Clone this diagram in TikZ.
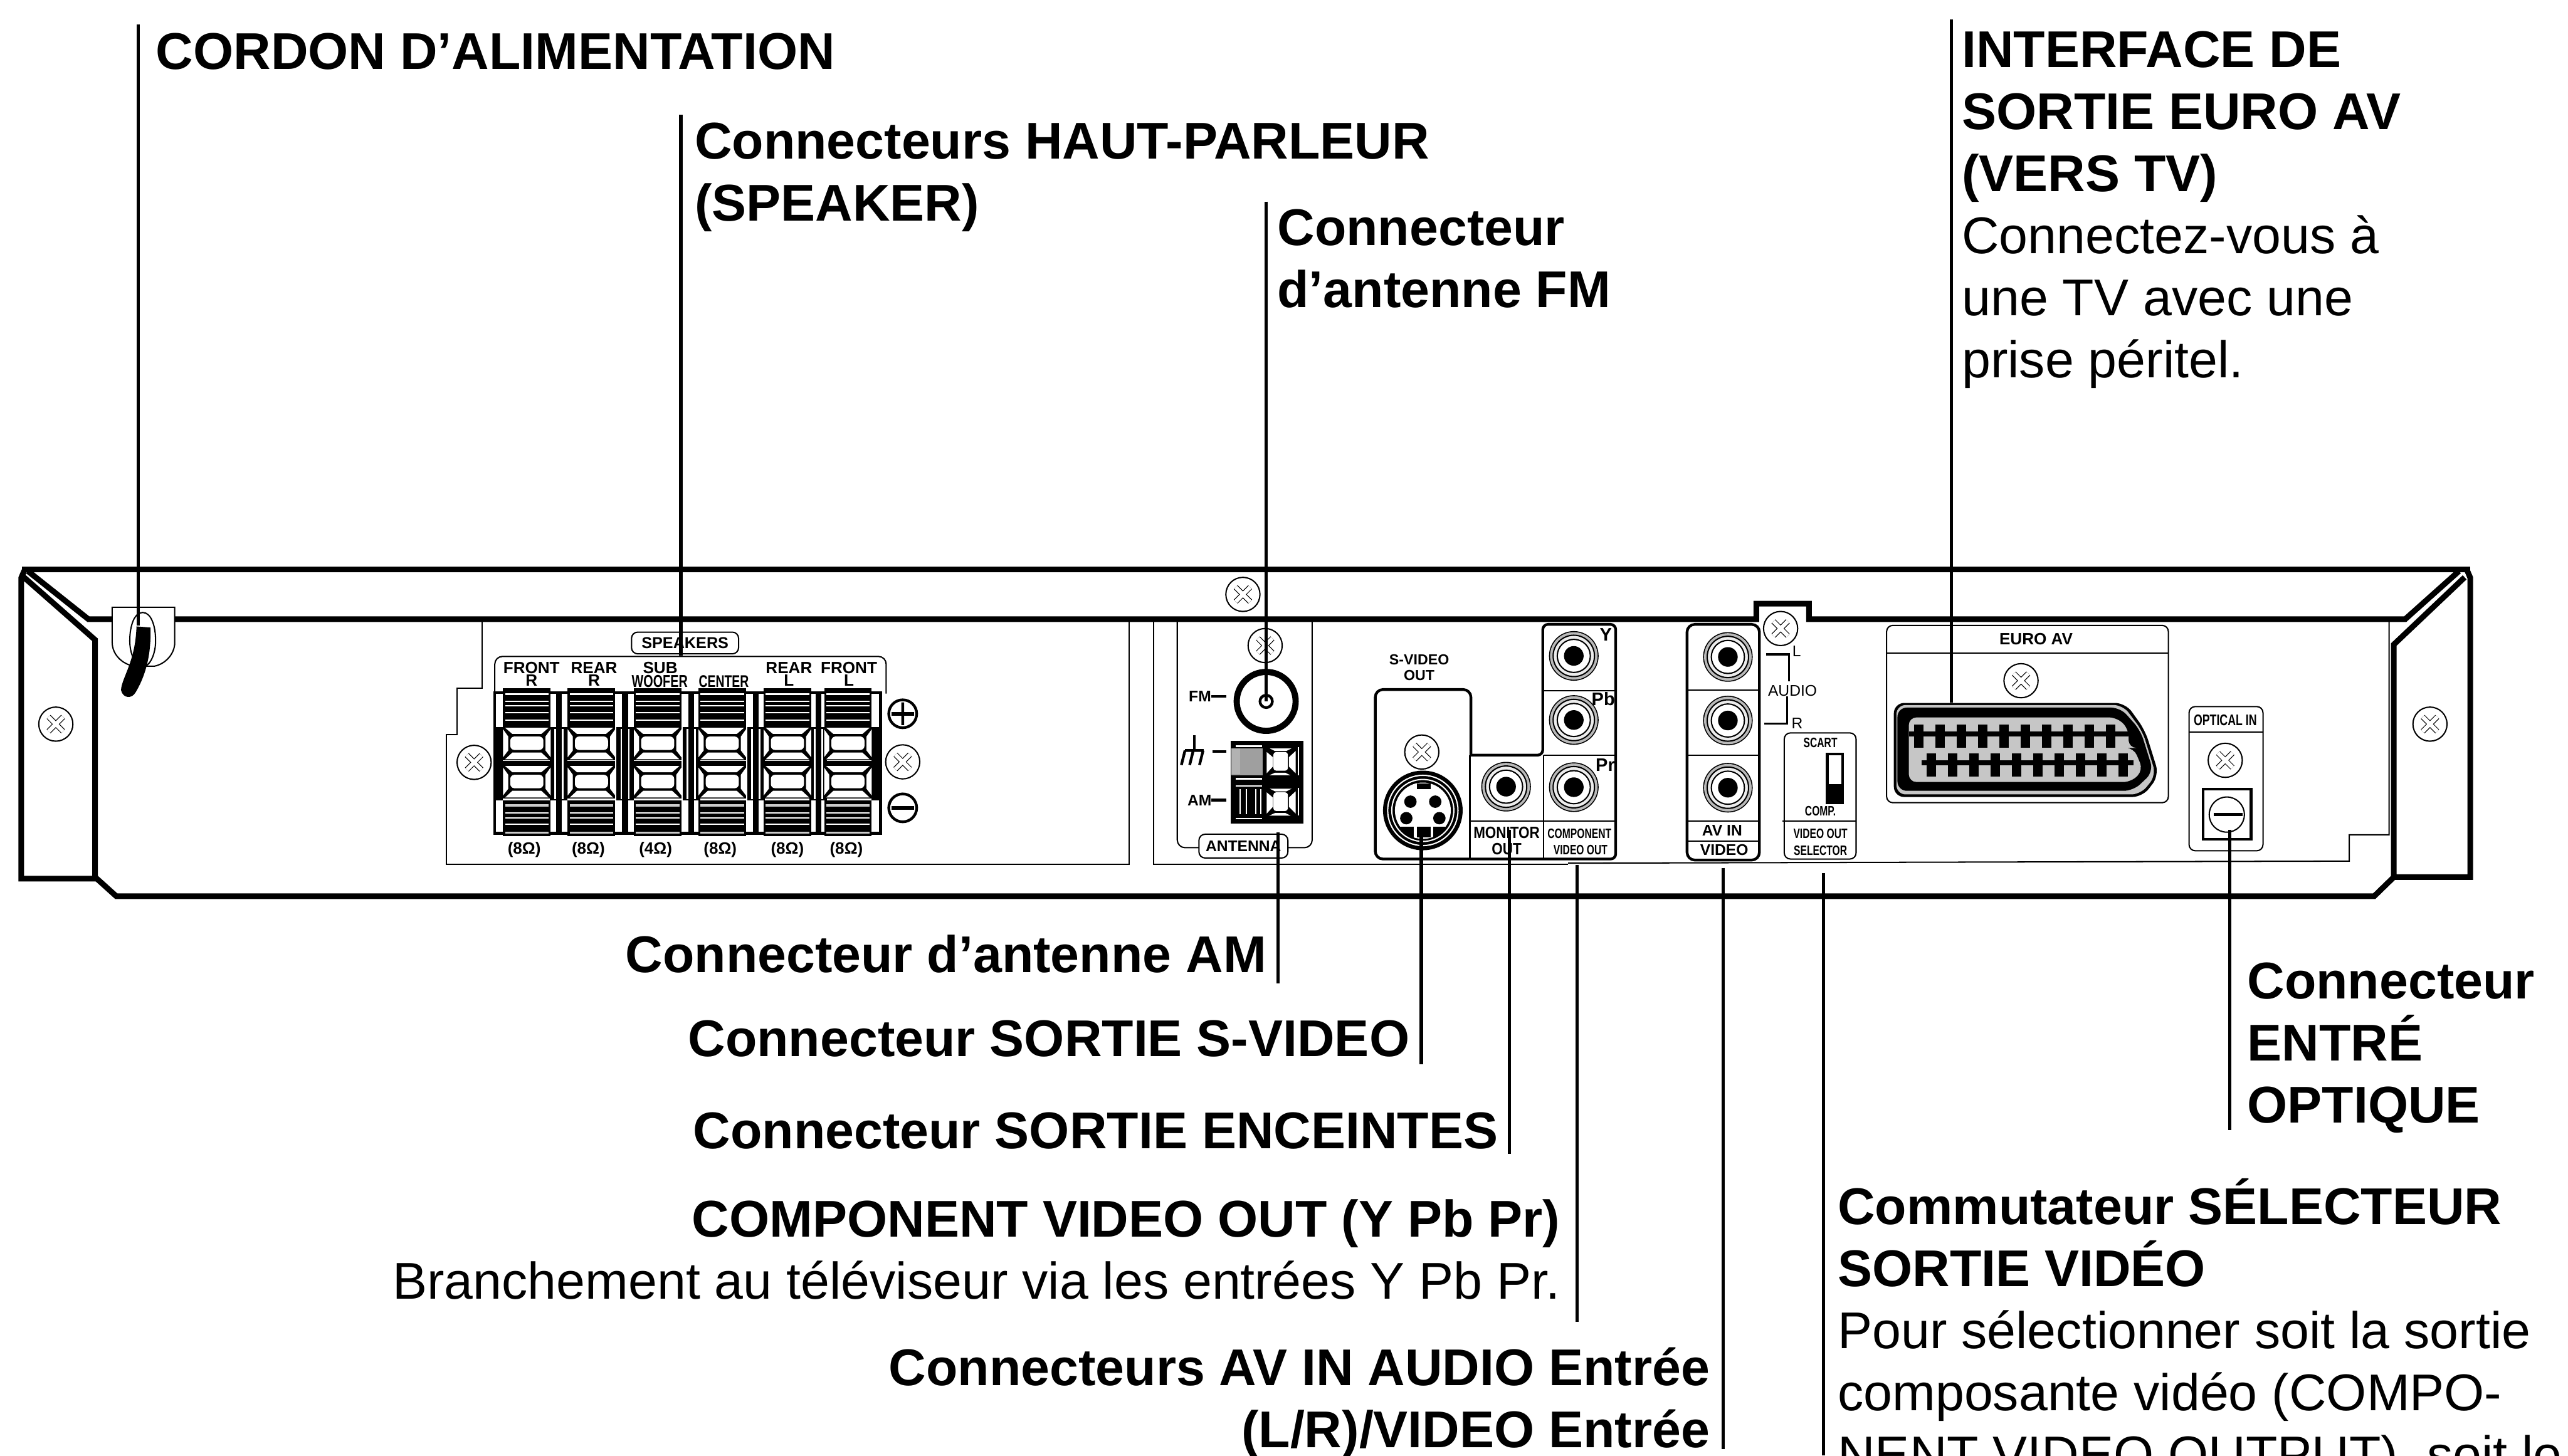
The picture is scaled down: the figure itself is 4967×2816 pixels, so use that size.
\documentclass[tikz,border=0pt]{standalone}
\usepackage{fontspec}
\setmainfont{Liberation Sans}
\newfontfamily\narrowfont[FakeStretch=0.72]{Liberation Sans}
\newfontfamily\midfont[FakeStretch=0.86]{Liberation Sans}
\newcommand{\bodysize}{\fontsize{28.45}{34.14}\selectfont\lineskiplimit=-100pt}
\tikzset{
	heavyline/.style={line width=3.1pt,line join=miter},
	midline/.style={line width=1.5pt},
	fineline/.style={line width=0.7pt},
	leader/.style={line width=1.8pt},
	toplbl/.style={inner sep=0,font=\bodysize,align=left,anchor=north west},
	sidelbl/.style={inner sep=0,font=\bodysize,align=right,anchor=north east},
	panellbl/.style={inner sep=0,font=\fontsize{9}{10}\selectfont\bfseries},
	narrowlbl/.style={inner sep=0,font=\narrowfont\fontsize{9}{10}\selectfont\bfseries},
	tag/.style={draw,fineline,fill=white,rounded corners=0.12cm,inner sep=0},
	screw/.pic={
		\draw[fineline,fill=white] (0,0) circle [radius=33];
		\draw[line width=3pt] (-14,-14) -- (14,14) (14,-14) -- (-14,14);
		\draw[white,line width=2.2pt] (-14,-14) -- (14,14) (14,-14) -- (-14,14);
	},
	jack/.pic={
		\fill (0,0) circle [radius=48];
		\fill[gray!55] (0,0) circle [radius=46];
		\draw[fineline,fill=gray!15] (0,0) circle [radius=40];
		\draw[fineline,fill=white] (0,0) circle [radius=32];
		\fill (0,0) circle [radius=19];
	},
	spkcell/.pic={
		\fill (-46,-33) rectangle (46,33);
		\fill[white] (-42,-30) -- (42,-30) -- (28,-18) -- (-28,-18) -- cycle;
		\fill[white] (-42,31) -- (42,31) -- (28,18) -- (-28,18) -- cycle;
		\fill[white] (-46,-27) -- (-36,-13) -- (-36,14) -- (-46,27) -- cycle;
		\fill[white] (46,-27) -- (36,-13) -- (36,14) -- (46,27) -- cycle;
		\fill[white,rounded corners=0.08cm] (-32,-13) rectangle (32,13);
	},
	spkterm/.pic={
		\fill (-46,-144) rectangle (46,-69);
		\foreach \sy in {-133,-119,-111,-97,-83}
			\draw[white,fineline] (-42,\sy) -- (42,\sy);
		\pic at (0,-38) {spkcell};
		\pic at (0,36) {spkcell};
		\fill (-46,-4) rectangle (46,4);
		\fill (-46,72) rectangle (46,142);
		\foreach \sy in {97,106,119}
			\draw[white,fineline] (-42,\sy) -- (42,\sy);
		\foreach \sy in {82,135}
			\draw[gray!40,line width=1.3pt] (-42,\sy) -- (42,\sy);
	},
	spkgap/.pic={
		\draw[midline] (-17,-136) -- (17,-136) (-17,136) -- (17,136);
		\fill (-5.5,-136) rectangle (5.5,136);
		\fill (-17,-69) rectangle (17,72);
		\fill[white] (-9,-66) rectangle (-5.5,70);
		\fill[white] (5.5,-66) rectangle (9,70);
	},
	antcell/.pic={
		\fill[white] (-22,-25) -- (20,-25) -- (10,-20) -- (-12,-20) -- cycle;
		\fill[white] (-23,27) -- (18,27) -- (8,22) -- (-12,22) -- cycle;
		\fill[white] (-28,-18) -- (-16,-8) -- (-16,10) -- (-28,23) -- cycle;
		\fill[white] (28,-20) -- (15,-8) -- (15,10) -- (28,23) -- cycle;
		\fill[white,rounded corners=0.05cm] (-15,-18) rectangle (13,18);
		\fill[white] (32,-27) rectangle (35,27);
	}
}
\begin{document}
\begin{tikzpicture}[x=0.01cm,y=-0.01cm]
\useasboundingbox (0,0) rectangle (4967,2816);
% chassis
\draw[heavyline] (43,1102) -- (4778,1102);
\draw[heavyline] (54,1105) -- (171,1198) -- (3397,1198) -- (3397,1168) -- (3499,1168) -- (3499,1198) -- (4652,1198) -- (4756,1105);
\draw[heavyline] (47,1104) -- (41,1118) -- (41,1700) -- (184,1700) -- (184,1238) -- (43,1114);
\draw[heavyline] (4772,1104) -- (4778,1118) -- (4778,1697) -- (4630,1697) -- (4630,1247) -- (4767,1117);
\draw[heavyline] (184,1697) -- (225,1734) -- (4592,1734) -- (4630,1697);
\draw[fineline] (932,1198) -- (932,1332) -- (884,1332) -- (884,1421) -- (863,1421) -- (863,1672) -- (2184,1672) -- (2184,1198);
\draw[fineline] (2231,1198) -- (2231,1672) -- (3033,1672);
\draw[fineline] (3033,1670) -- (4544,1666) -- (4544,1615) -- (4621,1615) -- (4621,1198);
% cord
\draw[fineline,fill=white] (217,1175) -- (338,1175) -- (338,1243) .. controls (338,1265) and (320,1285) .. (298,1289) -- (260,1289) .. controls (235,1285) and (217,1265) .. (217,1243) -- cycle;
\draw[fineline] (276,1185) .. controls (292,1185) and (301,1210) .. (301,1240) .. controls (301,1265) and (290,1290) .. (276,1290) .. controls (262,1290) and (251,1265) .. (251,1240) .. controls (251,1210) and (260,1185) .. (276,1185) -- cycle;
\fill (264,1212) -- (291,1214) .. controls (293,1270) and (280,1310) .. (262,1340) .. controls (255,1352) and (238,1352) .. (234,1335) .. controls (236,1310) and (262,1280) .. (264,1212) -- cycle;
\foreach \px/\py in {108/1401,4700/1401,2404/1150,917/1475,1746/1474,2447/1249,2750/1455,3444/1216,3909/1317,4304/1471}
	\pic at (\px,\py) {screw};
% speakers
\draw[fineline,rounded corners=0.15cm] (957,1342) -- (957,1270) -- (1714,1270) -- (1714,1342);
\draw[midline] (957,1340) rectangle (1703,1612);
\foreach \px in {1081,1209,1337,1462,1583}
	\pic at (\px,1476) {spkgap};
\fill (957,1407) rectangle (973,1548);
\fill (1686,1407) rectangle (1703,1548);
\foreach \px in {1019,1144,1272,1397,1523,1640}
	\pic at (\px,1476) {spkterm};
\node[tag,minimum width=2.07cm,minimum height=0.42cm,font=\fontsize{8.7}{9}\selectfont\bfseries] (spkbox) at (1325,1244) {SPEAKERS};
\foreach \n/\px/\txta/\txtb in {fr/1028/FRONT/R,rr/1149/REAR/R,rl/1526/REAR/L,fl/1642/FRONT/L} {
	\node[panellbl] (\n a) at (\px,1292) {\txta};
	\node[panellbl] (\n b) at (\px,1316) {\txtb};
}
\node[panellbl] (suba) at (1277,1292) {SUB};
\node[narrowlbl,font=\narrowfont\fontsize{9.5}{10}\selectfont\bfseries] (subb) at (1276,1318) {WOOFER};
\node[narrowlbl,font=\narrowfont\fontsize{9.3}{10}\selectfont\bfseries] (ctrb) at (1400,1318) {CENTER};
\foreach \n/\px/\ohm in {oa/1014/8,ob/1138/8,oc/1268/4,od/1393/8,oe/1523/8,of/1637/8}
	\node[panellbl] (\n) at (\px,1644) {(\ohm Ω)};
% plus and minus
\draw[midline] (1746,1381) circle [radius=27] (1746,1359) -- (1746,1403);
\draw[line width=1.9pt] (1724,1381) -- (1768,1381);
\draw[midline] (1746,1563) circle [radius=27];
\draw[line width=1.9pt] (1724,1563) -- (1768,1563);
% antenna
\draw[fineline,rounded corners=0.15cm] (2277,1198) -- (2277,1640) -- (2538,1640) -- (2538,1198);
\node[tag,minimum width=1.72cm,minimum height=0.46cm] (antbox) at (2405,1637) {};
\node[panellbl,font=\fontsize{8.5}{10}\selectfont\bfseries] (antlbl) at (2405,1637) {ANTENNA};
\draw[line width=3.4pt] (2449,1357) circle [radius=57];
\draw[midline] (2449,1357) circle [radius=12];
\node[panellbl,font=\fontsize{8.5}{10}\selectfont\bfseries] (fmlbl) at (2321,1347) {FM};
\node[panellbl,font=\fontsize{8.5}{10}\selectfont\bfseries] (amlbl) at (2320,1548) {AM};
\draw[midline] (2343,1347) -- (2372,1347) (2345,1454) -- (2372,1454) (2343,1548) -- (2372,1548);
\draw[midline] (2310,1423) -- (2310,1452);
\draw[midline] (2292,1452) -- (2328,1452) (2292,1452) -- (2285,1480) (2308,1452) -- (2301,1480) (2327,1452) -- (2320,1480);
\fill (2380,1433) rectangle (2521,1593);
\fill[gray!75] (2381,1448) rectangle (2442,1500);
\fill[gray!60] (2381,1448) rectangle (2398,1498);
\foreach \py in {1442,1505,1519,1582}
	\fill[white] (2390,\py) rectangle (2441,\py+3);
\foreach \px in {2397,2410,2428,2437}
	\fill[white] (\px,1527) rectangle (\px+2.5,1575);
\foreach \py in {1473,1551}
	\pic at (2478,\py) {antcell};
% s-video
\node[panellbl,font=\fontsize{8}{9}\selectfont\bfseries] (svida) at (2745,1276) {S-VIDEO};
\node[panellbl,font=\fontsize{8}{9}\selectfont\bfseries] (svidb) at (2745,1307) {OUT};
\draw[midline,rounded corners=0.15cm] (2845,1461) -- (2845,1334) -- (2660,1334) -- (2660,1662) -- (2843,1662);
\fill (2752,1568) circle [radius=77];
\draw[white,fineline] (2752,1568) circle [radius=68] (2752,1568) circle [radius=60];
\fill[white] (2752,1568) circle [radius=54];
\fill (2740,1516) rectangle (2767,1527);
\foreach \px/\py in {2728/1551,2776/1551,2720/1583,2784/1583}
	\fill (\px,\py) circle [radius=12];
\begin{scope}
	\clip (2752,1568) circle [radius=55];
	\fill (2690,1600) rectangle (2814,1630);
	\fill[white] (2735,1600) rectangle (2772,1630);
	\fill (2740,1600) rectangle (2767,1620);
\end{scope}
% component and monitor
\draw[midline,rounded corners=0.1cm] (2845,1461) -- (2984,1461) -- (2984,1208) -- (3125,1208) -- (3125,1662) -- (2843,1662);
\draw[fineline] (2843,1461) -- (2843,1662) (2986,1461) -- (2986,1662) (2843,1589) -- (3125,1589) (2986,1461) -- (3125,1461) (2986,1336) -- (3125,1336);
\foreach \px/\py in {3044/1269,3044/1393,3044/1523,2913/1522,3342/1271,3342/1394,3342/1524}
	\pic at (\px,\py) {jack};
\node[panellbl,font=\fontsize{10}{11}\selectfont\bfseries] (ylbl) at (3106,1228) {Y};
\node[panellbl,font=\fontsize{10}{11}\selectfont\bfseries] (pblbl) at (3101,1352) {Pb};
\node[panellbl,font=\fontsize{10}{11}\selectfont\bfseries] (prlbl) at (3105,1480) {Pr};
\node[narrowlbl,font=\midfont\fontsize{9}{10}\selectfont\bfseries] (mona) at (2914,1611) {MONITOR};
\node[narrowlbl,font=\midfont\fontsize{9}{10}\selectfont\bfseries] (monb) at (2914,1643) {OUT};
\node[narrowlbl,font=\narrowfont\fontsize{7.5}{8}\selectfont\bfseries] (compa) at (3055,1613) {COMPONENT};
\node[narrowlbl,font=\narrowfont\fontsize{7.5}{8}\selectfont\bfseries] (compb) at (3057,1644) {VIDEO OUT};
% av in
\draw[midline,rounded corners=0.15cm] (3263,1208) rectangle (3403,1664);
\draw[fineline] (3263,1335) -- (3403,1335) (3263,1461) -- (3403,1461) (3263,1589) -- (3403,1589) (3263,1627) -- (3403,1627);
\node[panellbl,font=\fontsize{8.5}{10}\selectfont\bfseries] (avlbl) at (3331,1607) {AV IN};
\node[panellbl,font=\fontsize{8.5}{10}\selectfont\bfseries] (vidlbl) at (3335,1644) {VIDEO};
\draw[line width=1.1pt] (3416,1266) -- (3460,1266) -- (3460,1318) (3457,1347) -- (3457,1400) -- (3412,1400);
\node[inner sep=0,font=\fontsize{8.5}{10}\selectfont] (llbl) at (3475,1260) {L};
\node[inner sep=0,font=\fontsize{8.5}{10}\selectfont] (audlbl) at (3467,1336) {AUDIO};
\node[inner sep=0,font=\fontsize{8.5}{10}\selectfont] (rlbl) at (3476,1400) {R};
% selector
\draw[fineline,rounded corners=0.12cm] (3451,1418) rectangle (3590,1662);
\draw[fineline] (3448,1589) -- (3590,1589);
\node[narrowlbl,font=\narrowfont\fontsize{7.5}{8}\selectfont\bfseries] (scartlbl) at (3521,1437) {SCART};
\draw[midline,fill=white] (3534,1459) rectangle (3564,1553);
\fill (3534,1517) rectangle (3564,1553);
\node[narrowlbl,font=\narrowfont\fontsize{7.5}{8}\selectfont\bfseries] (complbl) at (3521,1569) {COMP.};
\node[narrowlbl,font=\narrowfont\fontsize{7.5}{8}\selectfont\bfseries] (sela) at (3521,1613) {VIDEO OUT};
\node[narrowlbl,font=\narrowfont\fontsize{7.5}{8}\selectfont\bfseries] (selb) at (3521,1645) {SELECTOR};
% euro av
\draw[fineline,rounded corners=0.12cm] (3649,1210) rectangle (4194,1553);
\draw[fineline] (3649,1264) -- (4194,1264);
\node[panellbl] (eurolbl) at (3938,1236) {EURO AV};
\fill[rounded corners=0.2cm] (3663,1360) -- (4111,1360) -- (4149,1413) -- (4176,1500) -- (4144,1542) -- (3663,1542) -- cycle;
\fill[gray!45,rounded corners=0.18cm] (3668,1364) -- (4106,1364) -- (4144,1415) -- (4170,1500) -- (4140,1537) -- (3668,1537) -- cycle;
\fill[rounded corners=0.18cm] (3670,1369) -- (4101,1369) -- (4140,1413) -- (4165,1493) -- (4126,1530) -- (3670,1530) -- cycle;
\fill[gray!45,rounded corners=0.15cm] (3692,1388) -- (4094,1388) -- (4117,1410) -- (4117,1447) -- (4127,1447) -- (4145,1490) -- (4122,1513) -- (3692,1513) -- cycle;
\fill (3692,1415) rectangle (4117,1425);
\fill (3717,1471) rectangle (4127,1481);
\foreach \n in {0,...,9} {
	\fill (3702.4+41.2*\n,1402) rectangle (3720.4+41.2*\n,1447);
	\fill (3726.7+41.2*\n,1458) rectangle (3744.7+41.2*\n,1503);
}
% optical
\draw[fineline,rounded corners=0.12cm] (4234,1367) rectangle (4377,1646);
\draw[fineline] (4234,1416) -- (4377,1416);
\node[narrowlbl,font=\narrowfont\fontsize{8.5}{9}\selectfont\bfseries] (optlbl) at (4304,1393) {OPTICAL IN};
\draw[midline] (4261,1527) rectangle (4354,1624);
\draw[fineline] (4307,1576) circle [radius=34];
\draw[midline] (4282,1576) -- (4337,1576);
% leaders
\foreach \n/\px/\ytop/\yend in {cord/267/47/1210,spk/1317/222/1268,fm/2449/390/1357,euro/3774/38/1359,am/2472/1610/1903,svid/2749/1616/2059,mon/2919/1606/2233,comp/3050/1674/2557,av/3333/1679/2804,sel/3527/1689/2816,opt/4313/1605/2186} {
	\coordinate (\n top) at (\px,\ytop);
	\coordinate (\n end) at (\px,\yend);
	\draw[leader] (\n top) -- (\n end);
}
% labels
\node[toplbl] (cordtxt) at (301,49) {\strut\textbf{CORDON D’ALIMENTATION}};
\node[toplbl] (spktxt) at (1343,223) {\strut\textbf{Connecteurs HAUT-PARLEUR}\\\textbf{(SPEAKER)}};
\node[toplbl] (fmtxt) at (2470,390) {\strut\textbf{Connecteur}\\\textbf{d’antenne FM}};
\node[toplbl] (eurotxt) at (3794,46) {\strut\textbf{INTERFACE DE}\\\textbf{SORTIE EURO AV}\\\textbf{(VERS TV)}\\Connectez-vous à\\une TV avec une\\prise péritel.};
\node[sidelbl] (amtxt) at (2450,1797) {\strut\textbf{Connecteur d’antenne AM}};
\node[sidelbl] (svidtxt) at (2727,1959) {\strut\textbf{Connecteur SORTIE S-VIDEO}};
\node[sidelbl] (montxt) at (2898,2137) {\strut\textbf{Connecteur SORTIE ENCEINTES}};
\node[sidelbl] (comptxt) at (3018,2308) {\strut\textbf{COMPONENT VIDEO OUT (Y Pb Pr)}\\Branchement au téléviseur via les entrées Y Pb Pr.};
\node[sidelbl] (avtxt) at (3308,2596) {\strut\textbf{Connecteurs AV IN AUDIO Entrée}\\\textbf{(L/R)/VIDEO Entrée}};
\node[toplbl] (opttxt) at (4346,1848) {\strut\textbf{Connecteur}\\\textbf{ENTRÉ}\\\textbf{OPTIQUE}};
\node[toplbl] (seltxt) at (3554,2279) {\strut\textbf{Commutateur SÉLECTEUR}\\\textbf{SORTIE VIDÉO}\\Pour sélectionner soit la sortie\\composante vidéo (COMPO-\\NENT VIDEO OUTPUT), soit le};
\end{tikzpicture}
\end{document}
